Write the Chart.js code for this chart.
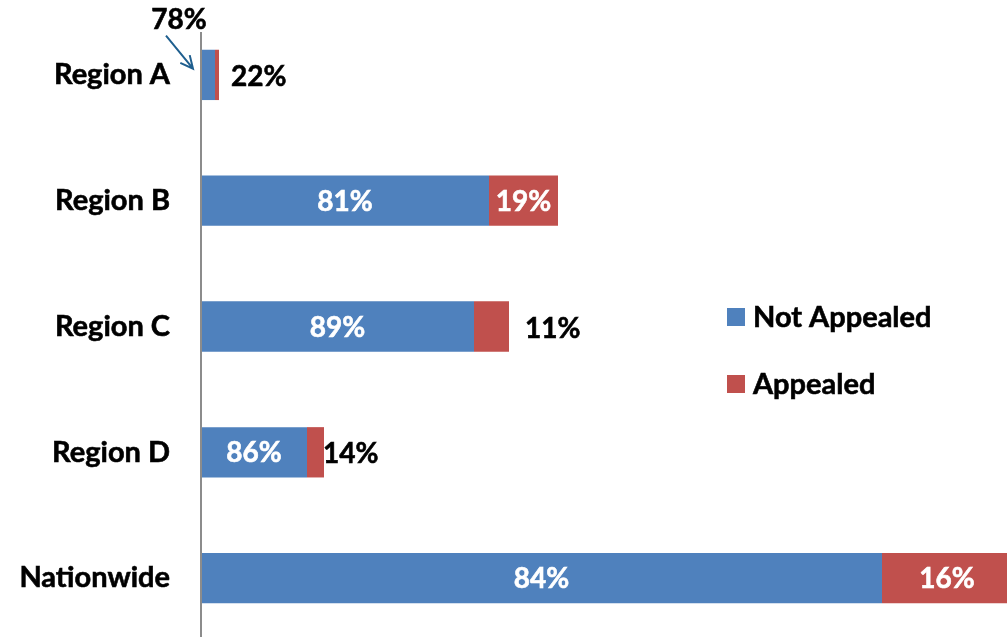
<!DOCTYPE html>
<html>
<head>
<meta charset="utf-8">
<script src="https://cdn.jsdelivr.net/npm/chart.js@4.4.1/dist/chart.umd.min.js"></script>
<style>
  html, body { margin: 0; padding: 0; background: #ffffff; overflow: hidden; }
  #wrap { position: relative; width: 1012px; height: 641px; }
</style>
</head>
<body>
<div id="wrap"><canvas id="c"></canvas></div>
<script>
// ---- data (bar lengths, arbitrary units) ----
const categories = ['Region A', 'Region B', 'Region C', 'Region D', 'Nationwide'];
const notAppealed = [14, 288, 273, 106, 681];
const appealed = [4, 69, 35, 17, 130];
const seriesNames = ['Not Appealed', 'Appealed'];

// ---- styling ----
const FONT = 'Lato, "Noto Sans", sans-serif';
const BLUE = '#4F81BD';
const RED = '#C0504D';

// placement of the value labels: 'in' = centred white, 'out' = black right of bar (dx offset), 'callout' = above with arrow
const labelPlacement = [
  [{mode: 'callout'}, {mode: 'out', dx: 12}],
  [{mode: 'in'}, {mode: 'in'}],
  [{mode: 'in'}, {mode: 'out', dx: 16}],
  [{mode: 'in'}, {mode: 'out', dx: -1}],
  [{mode: 'in'}, {mode: 'in'}]
];

function pct(ds, i) {
  const total = notAppealed[i] + appealed[i];
  const v = ds === 0 ? notAppealed[i] : appealed[i];
  return Math.round(v / total * 100) + '%';
}

function boldText(ctx, txt, x, y) {
  ctx.fillText(txt, x, y);
  ctx.lineWidth = 0.6;
  ctx.strokeStyle = ctx.fillStyle;
  ctx.strokeText(txt, x, y);
}

const labelPlugin = {
  id: 'valueLabels',
  afterDatasetsDraw(chart) {
    const ctx = chart.ctx;
    ctx.save();
    ctx.font = 'bold 28px ' + FONT;
    ctx.textBaseline = 'middle';
    chart.data.datasets.forEach((ds, d) => {
      const meta = chart.getDatasetMeta(d);
      meta.data.forEach((bar, i) => {
        const p = labelPlacement[i][d];
        const txt = pct(d, i);
        const left = Math.min(bar.base, bar.x), right = Math.max(bar.base, bar.x);
        if (p.mode === 'in') {
          ctx.fillStyle = '#ffffff';
          ctx.textAlign = 'center';
          boldText(ctx, txt, (left + right) / 2, bar.y + 1);
        } else if (p.mode === 'out') {
          ctx.fillStyle = '#000000';
          ctx.textAlign = 'left';
          boldText(ctx, txt, right + p.dx, bar.y + 2);
        } else if (p.mode === 'callout') {
          const top = bar.y - bar.height / 2;
          ctx.fillStyle = '#000000';
          ctx.textAlign = 'center';
          boldText(ctx, txt, left - 22, top - 30);
          // arrow
          const x1 = left - 35, y1 = top - 14, x2 = left - 8, y2 = top + 19;
          ctx.strokeStyle = '#1F5F8F';
          ctx.lineWidth = 2;
          ctx.beginPath();
          ctx.moveTo(x1, y1);
          ctx.lineTo(x2, y2);
          const a = Math.atan2(y2 - y1, x2 - x1);
          const L = 14;
          ctx.moveTo(x2 - L * Math.cos(a - 0.45), y2 - L * Math.sin(a - 0.45));
          ctx.lineTo(x2, y2);
          ctx.lineTo(x2 - L * Math.cos(a + 0.45), y2 - L * Math.sin(a + 0.45));
          ctx.stroke();
        }
      });
    });
    ctx.restore();
  }
};

const axisLinePlugin = {
  id: 'axisLine',
  afterDraw(chart) {
    const ctx = chart.ctx;
    const x = chart.scales.x.getPixelForValue(0);
    ctx.save();
    ctx.strokeStyle = '#8C8C8C';
    ctx.lineWidth = 2;
    ctx.beginPath();
    ctx.moveTo(x, 32);
    ctx.lineTo(x, chart.height);
    ctx.stroke();
    ctx.restore();
  }
};

const legendPlugin = {
  id: 'customLegend',
  afterDraw(chart) {
    const ctx = chart.ctx;
    ctx.save();
    ctx.font = 'bold 29px ' + FONT;
    ctx.textBaseline = 'middle';
    ctx.textAlign = 'left';
    const x0 = 727, ys = [317, 384];
    chart.data.datasets.forEach((ds, d) => {
      ctx.fillStyle = ds.backgroundColor;
      ctx.fillRect(x0, ys[d] - 9, 18, 18);
      ctx.fillStyle = '#000000';
      boldText(ctx, ds.label, x0 + 26, ys[d] + 1);
    });
    ctx.restore();
  }
};

new Chart(document.getElementById('c'), {
  type: 'bar',
  data: {
    labels: categories,
    datasets: [
      { label: seriesNames[0], data: notAppealed, backgroundColor: BLUE, borderWidth: 0 },
      { label: seriesNames[1], data: appealed, backgroundColor: RED, borderWidth: 0 }
    ]
  },
  options: {
    indexAxis: 'y',
    responsive: true,
    maintainAspectRatio: false,
    animation: false,
    layout: { padding: { top: 12, right: 0, bottom: 0, left: 0 } },
    categoryPercentage: 0.4,
    barPercentage: 1.0,
    plugins: {
      legend: { display: false },
      tooltip: { enabled: false }
    },
    scales: {
      x: {
        stacked: true,
        min: 0,
        max: 811,
        display: false
      },
      y: {
        stacked: true,
        grid: { display: false, drawTicks: false },
        border: { display: false },
        ticks: {
          padding: 31,
          color: '#000000',
          textStrokeColor: '#000000',
          textStrokeWidth: 0.6,
          font: { family: FONT, size: 29, weight: 'bold' }
        },
        afterFit(scale) {
          scale.width = 201;
          scale.paddingTop = 0;
          scale.paddingBottom = 0;
        }
      }
    }
  },
  plugins: [labelPlugin, axisLinePlugin, legendPlugin]
});
</script>
</body>
</html>
